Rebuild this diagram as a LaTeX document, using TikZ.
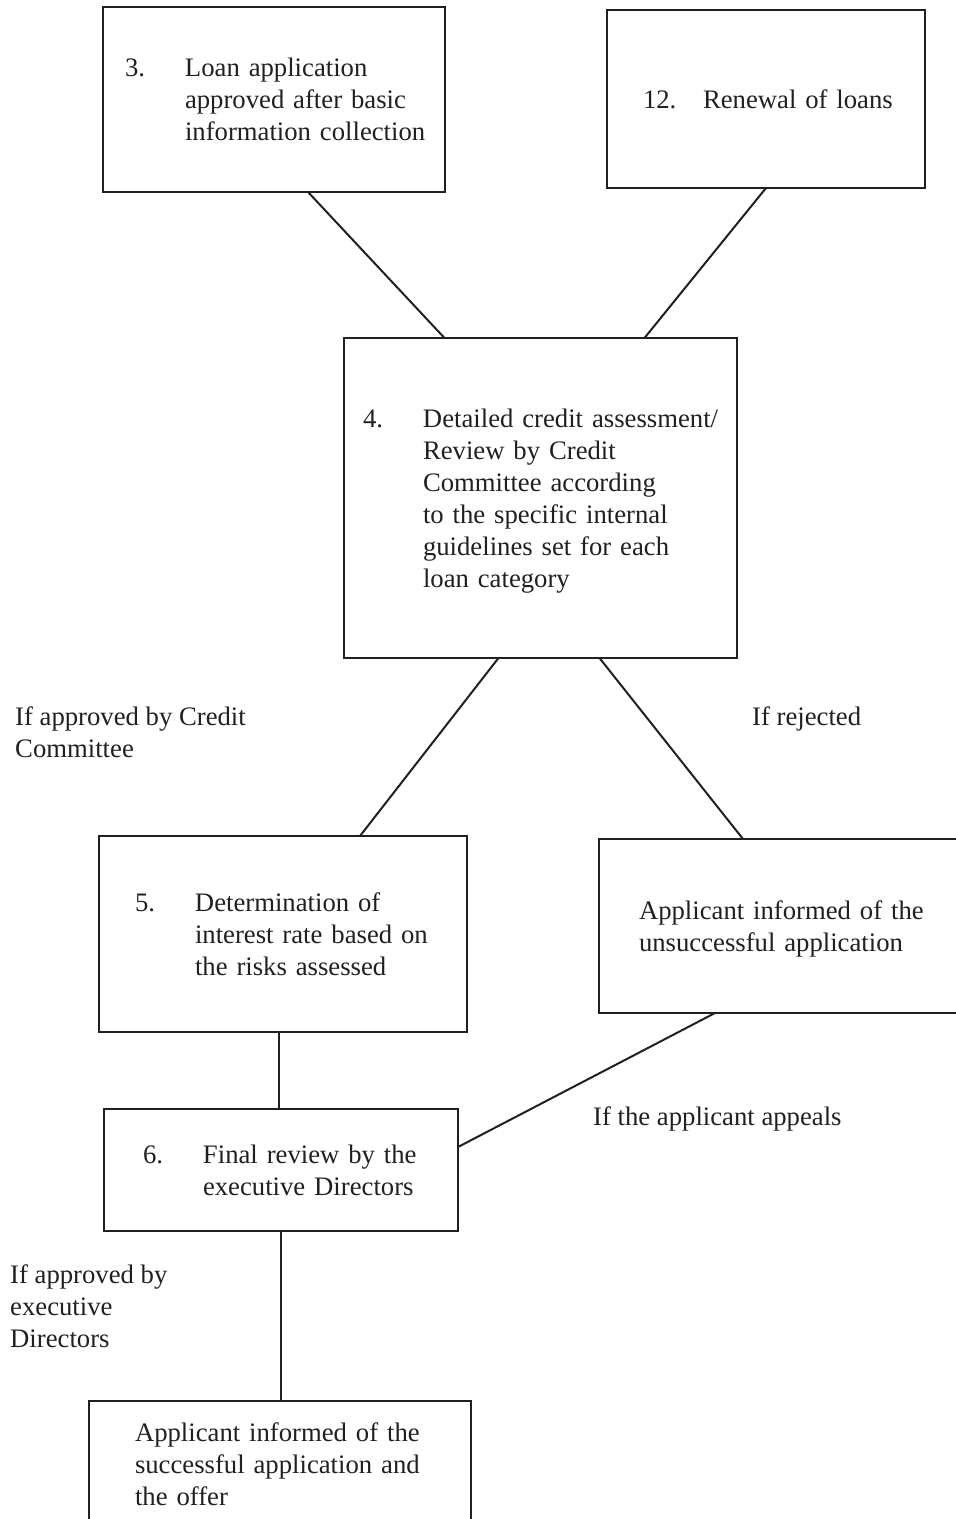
\documentclass[tikz,border=0pt]{standalone}
\usepackage{fontspec}
\setmainfont{Liberation Serif}
\usetikzlibrary{calc}
\definecolor{ink}{HTML}{231F20}
\hfuzz=20pt
\newcommand{\stack}[1]{\begin{tabular}[t]{@{}l@{}}#1\end{tabular}}
\newcommand{\plain}[1]{\raisebox{-3pt}[\height][\depth]{\stack{#1}}}
\newcommand{\numbered}[2]{\raisebox{-3pt}[\height][\depth]{\begin{tabular}{@{}p{60pt}@{}l@{}}#1&\stack{#2}\end{tabular}}}

\begin{document}
\begin{tikzpicture}[
  x=1pt,y=-1pt,
  font=\fontsize{26.7}{32}\selectfont,
  every node/.style={text=ink},
  box/.style={draw=ink,line width=2.2pt,anchor=north west,outer sep=0pt,inner sep=0pt,align=left},
  note/.style={anchor=base west,inner sep=0pt},
  link/.style={draw=ink,line width=2pt}
]
\useasboundingbox (0,0) rectangle (956,1519);
\clip (0,0) rectangle (956,1519);
% entry points
\node[box,minimum width=342pt,minimum height=185pt,text width=298pt] (basic) at (103,7)
  {\numbered{3.}{Loan application\\approved after basic\\information collection}};
\node[box,minimum width=318pt,minimum height=178pt,text width=246pt] (renew) at (607,10)
  {\numbered{12.}{Renewal of loans}};
% credit committee
\node[box,minimum width=393pt,minimum height=320pt,text width=355pt] (assess) at (344,338)
  {\numbered{4.}{Detailed credit assessment/\\Review by Credit\\Committee according\\to the specific internal\\guidelines set for each\\loan category}};
\node[box,minimum width=368pt,minimum height=196pt,text width=296pt] (rate) at (99,836)
  {\numbered{5.}{Determination of\\interest rate based on\\the risks assessed}};
\node[box,minimum width=400pt,minimum height=174pt,text width=320pt] (reject) at (599,839)
  {\plain{Applicant informed of the\\unsuccessful application}};
% directors
\node[box,minimum width=354pt,minimum height=122pt,text width=276pt] (review) at (104,1109)
  {\numbered{6.}{Final review by the\\executive Directors}};
\node[box,minimum width=382pt,minimum height=126pt,text width=290pt] (offer) at (89,1401)
  {\plain{Applicant informed of the\\successful application and\\the offer}};
% links
\draw[link] ($(basic.south)+(34,0)$) -- ($(assess.north)+(-96,0)$);
\draw[link] (renew.south) -- ($(assess.north)+(104,0)$);
\draw[link] ($(assess.south)+(-42,0)$) -- ($(rate.north)+(77,0)$);
\draw[link] ($(assess.south)+(59,0)$) -- ($(reject.north west)+(144,0)$);
\draw[link] ($(rate.south)+(-4,0)$) -- ($(review.north)+(-2,0)$);
\draw[link] ($(reject.south west)+(116,0)$) -- ($(review.east)+(0,-23)$);
\draw[link] (review.south) -- (review.south |- offer.north);
% conditions
\node[note] (lapp) at (15,725) {\stack{If approved by Credit\\Committee}};
\node[note] (lrej) at (752,725) {If rejected};
\node[note] (lappeal) at (593,1125) {If the applicant appeals};
\node[note] (ldir) at (10,1283) {\stack{If approved by\\executive\\Directors}};
\end{tikzpicture}
\end{document}
